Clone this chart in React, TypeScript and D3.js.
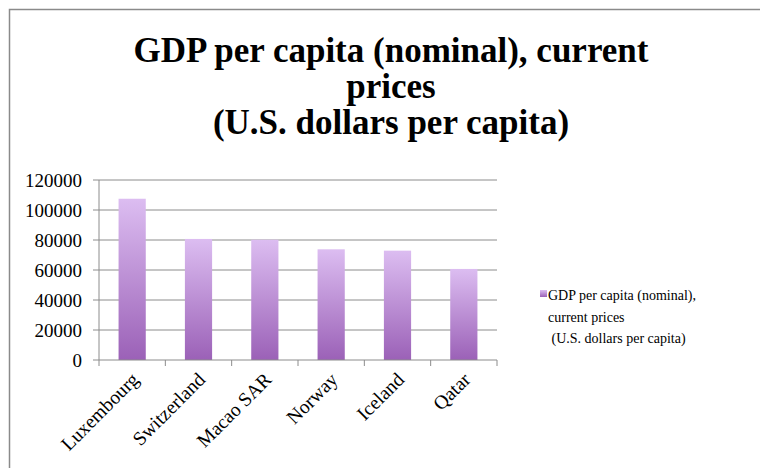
import React from 'react';
import * as d3 from 'd3';

const countries = ['Luxembourg', 'Switzerland', 'Macao SAR', 'Norway', 'Iceland', 'Qatar'];
const gdpValues = [107500, 80700, 80200, 73800, 72900, 60700];
const yTicks = [0, 20000, 40000, 60000, 80000, 100000, 120000];
const titleLines = ['GDP per capita (nominal), current', 'prices', '(U.S. dollars per capita)'];
const legendLines = ['GDP per capita (nominal),', 'current prices', ' (U.S. dollars per capita)'];

const W = 760;
const H = 468;
const margin = { top: 180, right: 263, bottom: 108, left: 99 };

const App = () => {
  const x = d3.scaleBand()
    .domain(countries)
    .range([margin.left, W - margin.right])
    .padding(0);

  const y = d3.scaleLinear()
    .domain([0, 120000])
    .range([H - margin.bottom, margin.top]);

  const barW = x.bandwidth() * 0.41;
  const serif = '"Liberation Serif", "Times New Roman", serif';

  return (
    <svg width={W} height={H} style={{ position: 'absolute', left: 0, top: 0 }}>
      <defs>
        <linearGradient id="barGrad" x1="0" y1="0" x2="0" y2="1">
          <stop offset="0%" stopColor="#dcbdf1" />
          <stop offset="100%" stopColor="#9b61b7" />
        </linearGradient>
      </defs>
      <rect width={W} height={H} fill="#fff" />

      {/* frame */}
      <path d={`M9.5,${H} V9.5 H${W}`} fill="none" stroke="#8a8a8a" strokeWidth={1.5} />

      {/* title */}
      <text fontFamily={serif} fontWeight="bold" fontSize={35} textAnchor="middle" fill="#000">
        {titleLines.map((t, i) => (
          <tspan key={i} x={391} y={62 + i * 36}>{t}</tspan>
        ))}
      </text>

      {/* gridlines + y ticks */}
      <g>
        {yTicks.map(t => (
          <g key={t}>
            {t > 0 && (
              <line x1={margin.left} x2={W - margin.right} y1={y(t)} y2={y(t)} stroke="#8c8c8c" strokeWidth={1} />
            )}
            <line x1={margin.left - 6} x2={margin.left} y1={y(t)} y2={y(t)} stroke="#8c8c8c" strokeWidth={1} />
            <text x={82} y={y(t)} dy="0.35em" textAnchor="end" fontFamily={serif} fontSize={19} fill="#000">
              {t}
            </text>
          </g>
        ))}
      </g>

      {/* bars */}
      <g>
        {countries.map((c, i) => (
          <rect
            key={c}
            x={(x(c) as number) + (x.bandwidth() - barW) / 2}
            y={y(gdpValues[i])}
            width={barW}
            height={y(0) - y(gdpValues[i])}
            fill="url(#barGrad)"
          />
        ))}
      </g>

      {/* axes */}
      <line x1={margin.left} x2={margin.left} y1={y(120000)} y2={y(0)} stroke="#8c8c8c" strokeWidth={1} />
      <line x1={margin.left} x2={W - margin.right} y1={y(0)} y2={y(0)} stroke="#8c8c8c" strokeWidth={1} />
      {[...countries.map(c => x(c) as number), W - margin.right].map((px, i) => (
        <line key={i} x1={px} x2={px} y1={y(0)} y2={y(0) + 6} stroke="#8c8c8c" strokeWidth={1} />
      ))}

      {/* x labels */}
      {countries.map(c => {
        const cx = (x(c) as number) + x.bandwidth() / 2 + 3;
        const cy = y(0) + 16;
        return (
          <text
            key={c}
            transform={`translate(${cx},${cy}) rotate(-45)`}
            textAnchor="end"
            dy="0.35em"
            fontFamily={serif}
            fontSize={19.5}
            fill="#000"
          >
            {c}
          </text>
        );
      })}

      {/* legend */}
      <rect x={540} y={290} width={7} height={7} fill="url(#barGrad)" />
      <text fontFamily={serif} fontSize={14} fill="#000">
        {legendLines.map((t, i) => (
          <tspan key={i} x={548} y={300 + i * 21.5} style={{ whiteSpace: 'pre' }}>{t}</tspan>
        ))}
      </text>
    </svg>
  );
};

export default App;
